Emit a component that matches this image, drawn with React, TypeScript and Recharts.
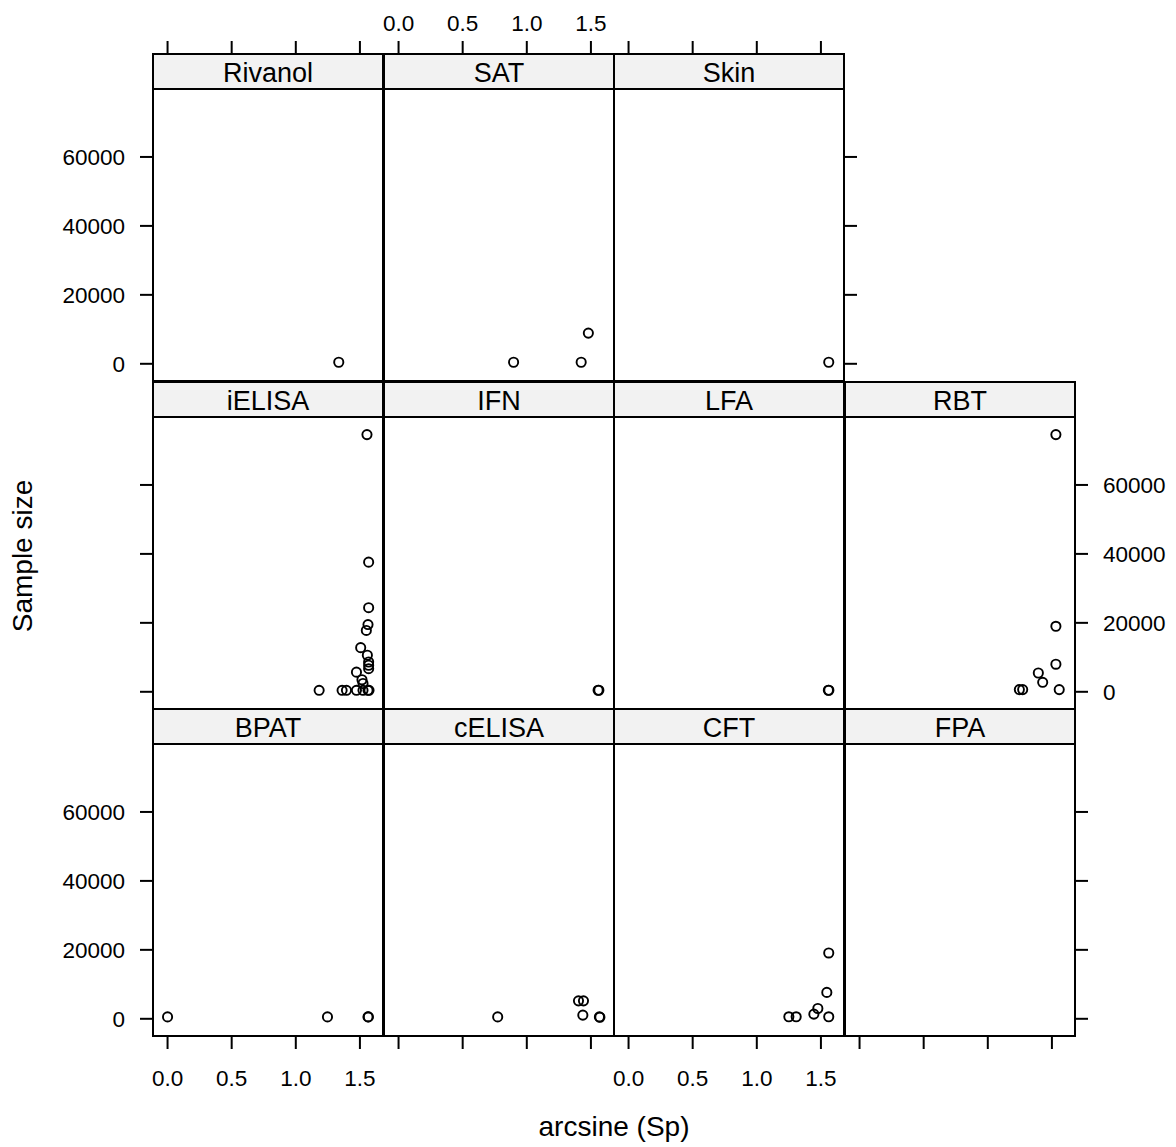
import { ScatterChart, Scatter, XAxis, YAxis } from 'recharts'

// arcsine(Sp) and sample size per test
const rivanolX = [1.335]
const rivanolN = [450]
const satX = [0.897, 1.424, 1.48]
const satN = [450, 450, 8900]
const skinX = [1.561]
const skinN = [450]

const ielisaX = [1.555, 1.568, 1.568, 1.563, 1.55, 1.506, 1.558, 1.568, 1.568, 1.568, 1.473, 1.516, 1.524, 1.182, 1.361, 1.395, 1.473, 1.524, 1.563, 1.571]
const ielisaN = [74600, 37600, 24400, 19500, 17800, 12800, 10600, 8640, 7700, 6700, 5700, 3500, 2400, 430, 430, 430, 430, 430, 430, 430]
const ifnX = [1.556, 1.562]
const ifnN = [450, 450]
const lfaX = [1.558, 1.562]
const lfaN = [450, 450]
const rbtX = [1.531, 1.531, 1.531, 1.394, 1.428, 1.557, 1.246, 1.272]
const rbtN = [74600, 19000, 8000, 5450, 2750, 640, 640, 640]

const bpatX = [0, 1.247, 1.563, 1.566]
const bpatN = [550, 550, 550, 550]
const celisaX = [0.773, 1.403, 1.442, 1.437, 1.566, 1.57]
const celisaN = [550, 5200, 5200, 1070, 550, 450]
const cftX = [1.561, 1.546, 1.476, 1.445, 1.561, 1.25, 1.307]
const cftN = [19100, 7650, 3000, 1350, 580, 580, 580]
const fpaX: number[] = []
const fpaN: number[] = []

const xTicks = [0, 0.5, 1.0, 1.5]
const xTickLabels = ['0.0', '0.5', '1.0', '1.5']
const yTicks = [0, 20000, 40000, 60000]

const FONT = '"Liberation Sans", Arial, Helvetica, sans-serif'
const colLeft = [153, 384, 614, 845]
const rowTop = [89, 417, 744]
const W = 230
const H = 292
const STRIP = 35
const PAD = 120
const AX_H = 70
const AX_W = 105
const TICK_FS = 22.5

type Side = 'none' | 'ticks' | 'labels'

const blankTick = () => <g />
const tickStyle = { fill: '#000', fontSize: TICK_FS }
const tickLineStyle = { stroke: '#000', strokeWidth: 2 }
const fmtX = (v: number) => xTickLabels[xTicks.indexOf(v)] ?? String(v)

// lattice puts the top axis above the strip, so shift the tick up by the strip height
function topTick(showLabel: boolean) {
  return (props: any) => {
    const { x, y, payload } = props
    const base = y - STRIP
    return (
      <g>
        <line x1={x} x2={x} y1={base} y2={base - 13} stroke="#000" strokeWidth={2} />
        {showLabel && (
          <text x={x} y={base - 23} textAnchor="middle" fontSize={TICK_FS} fill="#000">
            {fmtX(payload.value)}
          </text>
        )}
      </g>
    )
  }
}

function Circle(props: any) {
  const { cx, cy } = props
  if (cx == null || cy == null) return <g />
  return <circle cx={cx} cy={cy} r={4.6} fill="none" stroke="#000" strokeWidth={1.9} />
}

function Panel({
  title, xs, ns, col, row,
  top = 'none', bottom = 'none', left = 'none', right = 'none',
}: {
  title: string; xs: number[]; ns: number[]; col: number; row: number
  top?: Side; bottom?: Side; left?: Side; right?: Side
}) {
  const data = xs.map((x, i) => ({ x, y: ns[i] }))
  const x0 = colLeft[col]
  const y0 = rowTop[row]
  const xSide = top !== 'none' ? 'top' : bottom !== 'none' ? 'bottom' : null
  const ySide = left !== 'none' ? 'left' : right !== 'none' ? 'right' : null
  const yMode = ySide === 'left' ? left : right

  let xTick: any = blankTick
  if (xSide === 'top') xTick = topTick(top === 'labels')
  else if (xSide === 'bottom' && bottom === 'labels') xTick = tickStyle

  return (
    <>
      <div
        style={{
          position: 'absolute', left: x0 - 1, top: y0 - STRIP - 1, width: W + 2, height: STRIP + 2,
          boxSizing: 'border-box', border: '2px solid #000', background: '#f2f2f2',
          fontSize: 27, lineHeight: `${STRIP + 1}px`, textAlign: 'center', color: '#000',
        }}
      >
        {title}
      </div>
      <div
        style={{
          position: 'absolute', left: x0 - 1, top: y0 - 1, width: W + 2, height: H + 2,
          boxSizing: 'border-box', border: '2px solid #000',
        }}
      />
      <div style={{ position: 'absolute', left: x0 - PAD, top: y0 - PAD }}>
        <ScatterChart
          width={W + 2 * PAD}
          height={H + 2 * PAD}
          margin={{
            top: xSide === 'top' ? PAD - AX_H : PAD,
            bottom: xSide === 'bottom' ? PAD - AX_H : PAD,
            left: ySide === 'left' ? PAD - AX_W : PAD,
            right: ySide === 'right' ? PAD - AX_W : PAD,
          }}
        >
          <XAxis
            dataKey="x"
            type="number"
            domain={[-0.1135, 1.68]}
            allowDataOverflow
            ticks={xTicks}
            interval={0}
            hide={!xSide}
            orientation={xSide ?? 'bottom'}
            height={AX_H}
            axisLine={false}
            tickLine={xSide === 'top' ? false : tickLineStyle}
            tickSize={xSide === 'top' ? 0 : 13}
            tickMargin={xSide === 'top' ? 0 : 21}
            tick={xTick}
            tickFormatter={fmtX}
          />
          <YAxis
            dataKey="y"
            type="number"
            domain={[-4990, 79710]}
            allowDataOverflow
            ticks={yTicks}
            interval={0}
            hide={!ySide}
            orientation={ySide ?? 'left'}
            width={AX_W}
            axisLine={false}
            tickLine={tickLineStyle}
            tickSize={13}
            tickMargin={15}
            tick={yMode === 'labels' ? tickStyle : blankTick}
          />
          <Scatter data={data} shape={Circle} isAnimationActive={false} />
        </ScatterChart>
      </div>
    </>
  )
}

export default function App() {
  return (
    <div
      style={{
        position: 'absolute', left: 0, top: 0, width: 1176, height: 1147,
        background: '#fff', fontFamily: FONT, overflow: 'hidden',
      }}
    >
      <Panel title="Rivanol" xs={rivanolX} ns={rivanolN} col={0} row={0} top="ticks" left="labels" />
      <Panel title="SAT" xs={satX} ns={satN} col={1} row={0} top="labels" />
      <Panel title="Skin" xs={skinX} ns={skinN} col={2} row={0} top="ticks" right="ticks" />

      <Panel title="iELISA" xs={ielisaX} ns={ielisaN} col={0} row={1} left="ticks" />
      <Panel title="IFN" xs={ifnX} ns={ifnN} col={1} row={1} />
      <Panel title="LFA" xs={lfaX} ns={lfaN} col={2} row={1} />
      <Panel title="RBT" xs={rbtX} ns={rbtN} col={3} row={1} right="labels" />

      <Panel title="BPAT" xs={bpatX} ns={bpatN} col={0} row={2} bottom="labels" left="labels" />
      <Panel title="cELISA" xs={celisaX} ns={celisaN} col={1} row={2} bottom="ticks" />
      <Panel title="CFT" xs={cftX} ns={cftN} col={2} row={2} bottom="labels" />
      <Panel title="FPA" xs={fpaX} ns={fpaN} col={3} row={2} bottom="ticks" right="ticks" />

      <div
        style={{
          position: 'absolute', left: 23, top: 556, fontSize: 28, whiteSpace: 'nowrap',
          transform: 'translate(-50%, -50%) rotate(-90deg)', color: '#000',
        }}
      >
        Sample size
      </div>
      <div
        style={{
          position: 'absolute', left: 614, top: 1111, fontSize: 28, whiteSpace: 'nowrap',
          transform: 'translateX(-50%)', color: '#000', lineHeight: '32px',
        }}
      >
        arcsine (Sp)
      </div>
    </div>
  )
}
